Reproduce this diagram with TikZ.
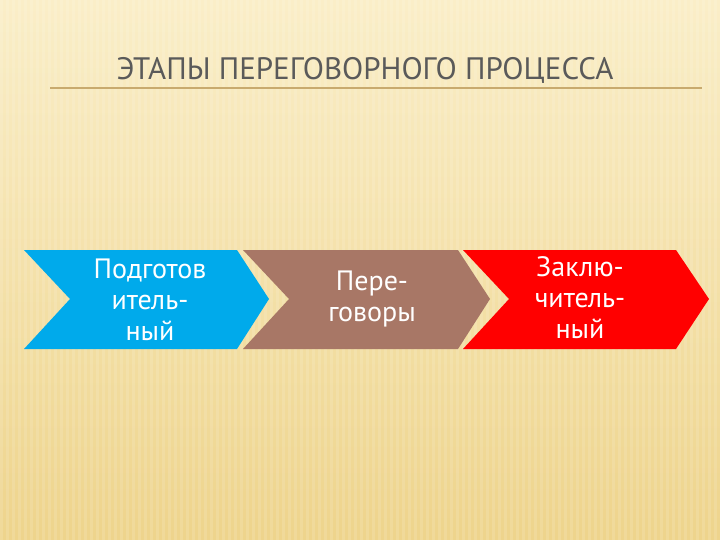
\documentclass[tikz,border=0pt]{standalone}
\usepackage{fontspec}
\setmainfont{PT Sans}
\definecolor{bgtop}{RGB}{250,238,200}
\definecolor{bgbot}{RGB}{238,212,140}
\definecolor{titlec}{RGB}{90,90,90}
\definecolor{rule}{RGB}{200,170,110}
\definecolor{cblue}{RGB}{0,170,235}
\definecolor{cbrown}{RGB}{168,119,102}
\begin{document}
\begin{tikzpicture}[x=1pt,y=-1pt,
  lbl/.style={text=white,font=\fontsize{28}{31}\selectfont,align=center}]
\useasboundingbox (0,0) rectangle (720,540);
\shade[top color=bgtop,bottom color=bgbot] (0,0) rectangle (720,540);
\foreach \i in {0,6,...,720} \fill[white,opacity=0.12] (\i,0) rectangle ++(2.5,540);
\node[text=titlec,font=\fontsize{31}{34}\selectfont] (title) at (365,70) {ЭТАПЫ ПЕРЕГОВОРНОГО ПРОЦЕССА};
\coordinate (ul) at (50,88); \coordinate (ur) at (702,88);
\draw[line width=1.2pt,rule] (ul) -- (ur);
\fill[cblue] (24,250) -- (237,250) -- (269,299) -- (237,349) -- (24,349) -- (70,299) -- cycle;
\fill[cbrown] (243,250) -- (458,250) -- (490,299) -- (458,349) -- (243,349) -- (289,299) -- cycle;
\fill[red] (463,250) -- (676,250) -- (709,299) -- (676,349) -- (463,349) -- (509,299) -- cycle;
\node[lbl] (a) at (150,300) {Подготов\\итель-\\ный};
\node[lbl] (b) at (372,299) {Пере-\\говоры};
\node[lbl] (c) at (580,298) {Заклю-\\читель-\\ный};
\end{tikzpicture}
\end{document}
